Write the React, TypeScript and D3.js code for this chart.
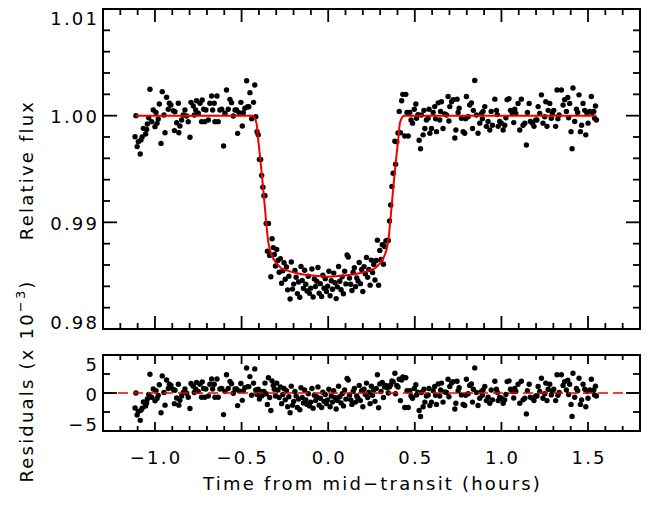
import React from "react";
import * as d3 from "d3";

// Time from mid-transit (hours)
const timeHours = [
  -1.115,-1.110,-1.103,-1.096,-1.085,-1.081,-1.074,-1.067,-1.054,-1.048,
  -1.044,-1.036,-1.029,-1.019,-1.010,-1.000,-0.994,-0.988,-0.981,-0.975,
  -0.965,-0.958,-0.948,-0.942,-0.933,-0.923,-0.917,-0.908,-0.894,-0.888,
  -0.885,-0.875,-0.865,-0.862,-0.856,-0.846,-0.837,-0.827,-0.817,-0.808,
  -0.798,-0.792,-0.779,-0.773,-0.765,-0.760,-0.750,-0.740,-0.731,-0.727,
  -0.719,-0.712,-0.706,-0.692,-0.683,-0.673,-0.667,-0.658,-0.654,-0.642,
  -0.635,-0.625,-0.615,-0.604,-0.596,-0.587,-0.577,-0.567,-0.558,-0.548,
  -0.538,-0.529,-0.523,-0.515,-0.504,-0.496,-0.490,-0.481,-0.471,-0.465,
  -0.458,-0.452,-0.442,
  -0.431,-0.424,-0.418,-0.411,-0.404,-0.397,-0.390,-0.384,-0.377,-0.371,
  -0.365,-0.358,-0.351,-0.345,-0.338,-0.331,-0.324,-0.317,-0.311,-0.304,
  -0.297,-0.290,-0.283,-0.276,-0.269,-0.262,-0.255,-0.248,-0.241,-0.234,
  -0.227,-0.220,-0.213,-0.206,-0.199,-0.192,-0.185,-0.178,-0.171,-0.164,
  -0.157,-0.150,-0.143,-0.136,-0.129,-0.122,-0.115,-0.108,-0.101,-0.094,
  -0.087,-0.080,-0.073,-0.066,-0.059,-0.052,-0.045,-0.038,-0.031,-0.024,
  -0.017,-0.010,-0.003,0.004,0.011,0.018,0.025,0.032,0.039,0.046,
  0.053,0.060,0.067,0.074,0.081,0.088,0.095,0.102,0.109,0.116,
  0.123,0.130,0.137,0.144,0.151,0.158,0.165,0.172,0.179,0.186,
  0.193,0.200,0.207,0.214,0.221,0.228,0.235,0.242,0.249,0.256,
  0.263,0.270,0.277,0.284,0.291,0.298,0.305,0.312,0.319,0.326,
  0.333,0.340,0.347,0.354,0.361,0.368,0.375,0.385,0.389,0.396,
  0.403,0.410,0.417,0.424,0.431,
  0.442,0.448,0.455,0.462,0.471,0.478,0.487,0.497,0.506,0.510,
  0.518,0.525,0.533,0.538,0.548,0.553,0.558,0.567,0.577,0.582,
  0.587,0.596,0.606,0.615,0.620,0.625,0.635,0.644,0.649,0.654,
  0.663,0.673,0.683,0.692,0.697,0.702,0.712,0.721,0.731,0.737,
  0.744,0.750,0.756,0.769,0.779,0.788,0.793,0.798,0.808,0.817,
  0.827,0.833,0.838,0.846,0.856,0.865,0.875,0.885,0.890,0.894,
  0.904,0.913,0.923,0.933,0.941,0.948,0.962,0.971,0.976,0.981,
  0.990,1.000,1.010,1.019,1.026,1.033,1.044,1.052,1.063,1.071,
  1.077,1.083,1.096,1.106,1.115,1.125,1.135,1.144,1.150,1.160,
  1.167,1.179,1.188,1.198,1.205,1.212,1.221,1.231,1.240,1.250,
  1.256,1.263,1.270,1.279,1.288,1.294,1.302,1.313,1.321,1.326,
  1.333,1.346,1.356,1.365,1.375,1.383,1.388,1.394,1.402,1.408,
  1.413,1.423,1.433,1.440,1.448,1.456,1.463,1.471,1.481,1.487,
  1.494,1.500,1.510,1.519,1.525,1.533,1.538,1.543,1.548,
];

// Relative flux minus 1, in units of 10^-3
const fluxPpt = [
  -1.97,0.00,-2.90,-2.44,-3.60,-2.28,-2.00,-1.19,-1.72,-1.30,
  -0.78,-0.20,2.47,-0.56,0.53,-1.03,0.30,-0.72,-0.31,1.09,
  -2.60,2.25,0.06,-1.60,1.72,0.60,1.16,1.00,0.47,-1.40,
  0.37,-0.66,1.16,-1.60,-0.97,-0.40,0.06,0.53,-0.03,-0.56,
  -2.03,1.25,0.90,0.06,0.53,1.40,0.22,1.16,-0.56,1.47,
  0.60,-0.56,0.53,-0.40,1.16,1.84,0.53,1.16,-0.56,1.84,
  -0.56,0.53,0.60,-2.84,0.22,2.40,0.60,1.53,1.22,-0.03,
  0.53,0.53,-1.66,0.28,1.25,-0.97,0.28,0.69,3.28,0.84,
  0.84,2.16,-0.30,
  1.25,2.87,-0.10,-1.50,-1.80,-4.10,-4.10,-5.60,-6.70,-7.50,
  -7.50,-10.10,-12.70,-10.10,-13.10,-15.10,-11.54,-12.37,-13.02,-14.10,
  -12.55,-13.57,-14.68,-13.40,-15.71,-14.55,-13.79,-15.34,-14.18,-16.33,
  -15.06,-17.19,-13.72,-16.26,-15.79,-14.52,-15.15,-16.68,-15.60,-17.02,
  -14.13,-15.45,-16.18,-14.49,-15.80,-16.43,-15.05,-16.66,-16.17,-14.38,
  -17.00,-15.31,-16.02,-15.53,-14.24,-16.65,-15.75,-16.96,-14.96,-16.17,
  -15.28,-16.48,-15.99,-14.59,-16.88,-15.48,-16.27,-14.76,-15.66,-17.15,
  -16.05,-14.14,-15.53,-16.32,-15.11,-16.70,-14.58,-15.77,-13.06,-13.25,
  -15.23,-15.81,-16.39,-14.67,-14.25,-16.03,-15.22,-15.50,-13.77,-15.75,
  -14.42,-16.48,-14.15,-14.82,-13.29,-15.16,-14.42,-15.89,-13.54,-14.70,
  -13.95,-15.40,-13.58,-11.67,-15.90,-12.63,-13.48,-12.10,-13.93,-12.26,
  -11.74,-11.70,-11.70,-9.87,-8.38,-6.63,-5.40,-2.40,-4.55,-2.44,
  -1.62,0.40,-1.60,1.40,2.00,
  -1.90,2.00,0.30,-1.90,0.30,-0.40,-0.70,0.60,1.10,-0.25,
  0.10,-2.30,-3.10,0.06,-1.80,0.50,-1.20,-0.40,-0.25,0.60,
  -1.65,-1.20,0.30,0.85,-0.30,-1.50,1.20,-0.40,0.40,1.30,
  -1.20,0.15,0.06,1.80,-0.50,0.85,1.30,1.50,-2.10,-1.35,
  1.55,0.30,0.70,-0.25,-1.50,-1.65,-0.30,1.80,-0.10,1.00,
  1.20,-1.20,0.50,3.30,0.06,-1.65,-0.70,0.20,-0.30,0.40,
  0.85,-1.00,-0.55,-1.35,0.40,-0.90,1.55,0.50,0.10,-1.00,
  -0.55,-0.70,-1.35,-0.90,-0.20,1.50,1.60,0.50,0.20,-0.65,
  0.60,0.20,1.15,-1.35,1.55,-0.90,-0.70,-2.75,0.30,1.15,
  -0.55,-0.70,-1.00,-0.40,-0.40,0.85,0.20,1.95,-0.70,-0.10,
  1.30,-1.00,0.50,1.15,-0.25,0.20,0.50,-1.00,2.40,-0.30,
  0.06,2.40,1.00,1.50,0.40,1.70,-0.20,1.15,-1.50,-3.10,
  2.60,-0.55,0.60,0.30,1.95,-1.50,-0.90,1.15,0.50,-1.80,
  0.20,-0.70,0.40,1.80,0.30,0.40,-0.25,0.90,-0.40,
];

// Residuals (data - model), in units of 10^-3
const residualPpt = [
  -1.97,0.00,-2.90,-2.44,-3.60,-2.28,-2.00,-1.19,-1.72,-1.30,
  -0.78,-0.20,2.47,-0.56,0.53,-1.03,0.30,-0.72,-0.31,1.09,
  -2.60,2.25,0.06,-1.60,1.72,0.60,1.16,1.00,0.47,-1.40,
  0.37,-0.66,1.16,-1.60,-0.97,-0.40,0.06,0.53,-0.03,-0.56,
  -2.03,1.25,0.90,0.06,0.53,1.40,0.22,1.16,-0.56,1.47,
  0.60,-0.56,0.53,-0.40,1.16,1.84,0.53,1.16,-0.56,1.84,
  -0.56,0.53,0.60,-2.84,0.22,2.40,0.60,1.53,1.22,-0.03,
  0.53,0.53,-1.66,0.28,1.25,-0.97,0.28,0.69,3.28,0.84,
  0.84,2.16,-0.30,
  1.30,3.17,0.40,-0.20,0.50,-0.80,0.20,-0.40,-0.20,0.20,
  1.30,-0.10,-1.50,2.00,-0.60,-2.30,1.60,1.00,0.50,-0.40,
  1.30,0.40,-0.60,0.80,-1.40,-0.20,0.60,-0.90,0.30,-1.80,
  -0.50,-2.60,0.90,-1.60,-1.10,0.20,-0.40,-1.90,-0.80,-2.20,
  0.70,-0.60,-1.30,0.40,-0.90,-1.50,-0.10,-1.70,-1.20,0.60,
  -2.00,-0.30,-1.00,-0.50,0.80,-1.60,-0.70,-1.90,0.10,-1.10,
  -0.20,-1.40,-0.90,0.50,-1.80,-0.40,-1.20,0.30,-0.60,-2.10,
  -1.00,0.90,-0.50,-1.30,-0.10,-1.70,0.40,-0.80,1.90,1.70,
  -0.30,-0.90,-1.50,0.20,0.60,-1.20,-0.40,-0.70,1.00,-1.00,
  0.30,-1.80,0.50,-0.20,1.30,-0.60,0.10,-1.40,0.90,-0.30,
  0.40,-1.10,0.60,2.40,-1.95,1.20,0.20,1.40,-0.60,0.80,
  1.00,0.70,0.00,0.80,1.10,1.60,1.50,2.60,-0.10,1.00,
  0.80,1.80,-1.00,1.70,2.10,
  -1.90,2.00,0.30,-1.90,0.30,-0.40,-0.70,0.60,1.10,-0.25,
  0.10,-2.30,-3.10,0.06,-1.80,0.50,-1.20,-0.40,-0.25,0.60,
  -1.65,-1.20,0.30,0.85,-0.30,-1.50,1.20,-0.40,0.40,1.30,
  -1.20,0.15,0.06,1.80,-0.50,0.85,1.30,1.50,-2.10,-1.35,
  1.55,0.30,0.70,-0.25,-1.50,-1.65,-0.30,1.80,-0.10,1.00,
  1.20,-1.20,0.50,3.30,0.06,-1.65,-0.70,0.20,-0.30,0.40,
  0.85,-1.00,-0.55,-1.35,0.40,-0.90,1.55,0.50,0.10,-1.00,
  -0.55,-0.70,-1.35,-0.90,-0.20,1.50,1.60,0.50,0.20,-0.65,
  0.60,0.20,1.15,-1.35,1.55,-0.90,-0.70,-2.75,0.30,1.15,
  -0.55,-0.70,-1.00,-0.40,-0.40,0.85,0.20,1.95,-0.70,-0.10,
  1.30,-1.00,0.50,1.15,-0.25,0.20,0.50,-1.00,2.40,-0.30,
  0.06,2.40,1.00,1.50,0.40,1.70,-0.20,1.15,-1.50,-3.10,
  2.60,-0.55,0.60,0.30,1.95,-1.50,-0.90,1.15,0.50,-1.80,
  0.20,-0.70,0.40,1.80,0.30,0.40,-0.25,0.90,-0.40,
];

// Transit model curve (red)
const modelTime = [
  -1.110,-0.437,-0.430,-0.420,-0.413,-0.405,-0.395,-0.385,-0.375,-0.365,
  -0.355,-0.348,-0.343,-0.337,-0.330,-0.320,-0.300,-0.270,-0.230,-0.180,
  -0.120,-0.060,0.000,0.060,0.120,0.180,0.230,0.270,0.300,0.320,
  0.330,0.337,0.343,0.348,0.355,0.365,0.375,0.385,0.395,0.405,
  0.413,0.420,0.430,0.437,1.549,
];
const modelFluxPpt = [
  0,0,-0.1,-0.4,-0.8,-2.1,-3.6,-5.2,-6.9,-8.7,
  -10.5,-11.6,-12.1,-12.55,-12.9,-13.3,-13.8,-14.3,-14.55,-14.77,
  -14.94,-15.04,-15.09,-15.04,-14.94,-14.77,-14.55,-14.3,-13.8,-13.3,
  -12.9,-12.55,-12.1,-11.6,-10.5,-8.7,-6.9,-5.2,-3.6,-2.1,
  -0.8,-0.4,-0.1,0,0,
];

const xTickValues = [-1.0, -0.5, 0.0, 0.5, 1.0, 1.5];
const xTickLabels = ["\u22121.0", "\u22120.5", "0.0", "0.5", "1.0", "1.5"];
const fluxTickValues = [0.98, 0.99, 1.0, 1.01];
const fluxTickLabels = ["0.98", "0.99", "1.00", "1.01"];
const residTickValues = [-5, 0, 5];
const residTickLabels = ["\u22125", "0", "5"];

const FONT = "'DejaVu Sans', sans-serif";
const LS = 2.2;

export default function App() {
  const x = d3.scaleLinear().domain([-1.3, 1.8]).range([103, 640]);
  const yTop = d3.scaleLinear().domain([0.98, 1.01]).range([329, 9]);
  const yBot = d3.scaleLinear().domain([-5, 5]).range([431, 355]);

  const [x0, x1] = x.range();
  const xMinor = d3.range(-13, 19).map((i) => i / 10);
  const fluxMinor = d3.range(490, 506).map((i) => i / 500);
  const residMinor = [-2.5, 2.5];

  const model: [number, number][] = modelTime.map((t, i) => [t, 1 + modelFluxPpt[i] / 1000]);
  const line = d3
    .line<[number, number]>()
    .x((d) => x(d[0]))
    .y((d) => yTop(d[1]))
    .curve(d3.curveMonotoneX);

  const sw = 1.8;
  const tickStroke = { stroke: "#000", strokeWidth: sw };

  const yLabelPos = (scale: any, v: number, dom: number[]) => {
    let c = scale(v);
    if (Math.abs(v - dom[1]) < 1e-9) c += 9.5;
    else if (Math.abs(v - dom[0]) < 1e-9) c -= 6.5;
    else c += 1.2;
    return c + 6.5;
  };

  const textStyle: React.CSSProperties = {
    fontFamily: FONT,
    fontSize: 18,
    letterSpacing: LS,
    fill: "#000",
  };

  const xTicks = (yTopEdge: number, yBotEdge: number, maj: number, min: number) => (
    <g>
      {xMinor.map((v, i) => {
        const isMaj = xTickValues.some((m) => Math.abs(m - v) < 1e-9);
        const len = isMaj ? maj : min;
        return (
          <g key={i}>
            <line x1={x(v)} x2={x(v)} y1={yBotEdge} y2={yBotEdge - len} {...tickStroke} />
            <line x1={x(v)} x2={x(v)} y1={yTopEdge} y2={yTopEdge + len} {...tickStroke} />
          </g>
        );
      })}
    </g>
  );

  const yTicks = (scale: any, majors: number[], minors: number[], maj: number, min: number) => (
    <g>
      {majors.map((v, i) => (
        <g key={"M" + i}>
          <line x1={x0} x2={x0 + maj} y1={scale(v)} y2={scale(v)} {...tickStroke} />
          <line x1={x1} x2={x1 - maj} y1={scale(v)} y2={scale(v)} {...tickStroke} />
        </g>
      ))}
      {minors
        .filter((v) => !majors.some((m) => Math.abs(m - v) < 1e-9))
        .map((v, i) => (
          <g key={"m" + i}>
            <line x1={x0} x2={x0 + min} y1={scale(v)} y2={scale(v)} {...tickStroke} />
            <line x1={x1} x2={x1 - min} y1={scale(v)} y2={scale(v)} {...tickStroke} />
          </g>
        ))}
    </g>
  );

  const [tb, tt] = yTop.range();
  const [bb, bt] = yBot.range();

  return (
    <svg
      width={653}
      height={507}
      style={{ position: "absolute", left: 0, top: 0, background: "#fff" }}
    >
      <rect x={0} y={0} width={653} height={507} fill="#fff" />

      {/* Top panel: data */}
      <g>
        {timeHours.map((t, i) => (
          <circle key={i} cx={x(t)} cy={yTop(1 + fluxPpt[i] / 1000)} r={2.7} fill="#000" />
        ))}
      </g>
      <path d={line(model) || ""} fill="none" stroke="#ee0000" strokeWidth={2} />

      {/* Top panel axes */}
      <rect x={x0} y={tt} width={x1 - x0} height={tb - tt} fill="none" stroke="#000" strokeWidth={2} />
      {xTicks(tt, tb, 13, 6)}
      {yTicks(yTop, fluxTickValues, fluxMinor, 14, 7)}
      {fluxTickValues.map((v, i) => (
        <text key={i} x={97 + LS} y={yLabelPos(yTop, v, yTop.domain())} textAnchor="end" style={textStyle}>
          {fluxTickLabels[i]}
        </text>
      ))}
      <text
        transform={`translate(33,${(tt + tb) / 2 + 1}) rotate(-90)`}
        textAnchor="middle"
        style={textStyle}
      >
        Relative flux
      </text>

      {/* Bottom panel: residuals */}
      <g>
        {timeHours.map((t, i) => (
          <circle key={i} cx={x(t)} cy={yBot(residualPpt[i])} r={2.7} fill="#000" />
        ))}
      </g>
      <line x1={x0} x2={x1} y1={yBot(0)} y2={yBot(0)} stroke="#ee0000" strokeWidth={1.6} strokeDasharray="10 5" />

      <rect x={x0} y={bt} width={x1 - x0} height={bb - bt} fill="none" stroke="#000" strokeWidth={2} />
      {xTicks(bt, bb, 9, 5)}
      {yTicks(yBot, [0], residMinor, 14, 7)}
      {residTickValues.map((v, i) => (
        <text key={i} x={97 + LS} y={yLabelPos(yBot, v, yBot.domain())} textAnchor="end" style={textStyle}>
          {residTickLabels[i]}
        </text>
      ))}
      <text
        transform={`translate(33,381) rotate(-90)`}
        textAnchor="middle"
        style={textStyle}
      >
        Residuals (x 10
        <tspan dy={-8} style={{ fontSize: 13 }}>{"\u22123"}</tspan>
        <tspan dy={8}>)</tspan>
      </text>

      {/* X tick labels and title */}
      {xTickValues.map((v, i) => (
        <text key={i} x={x(v) + LS / 2} y={463.5} textAnchor="middle" style={textStyle}>
          {xTickLabels[i]}
        </text>
      ))}
      <text x={(x0 + x1) / 2 + LS / 2} y={490} textAnchor="middle" style={textStyle}>
        Time from mid{"\u2212"}transit (hours)
      </text>
    </svg>
  );
}
